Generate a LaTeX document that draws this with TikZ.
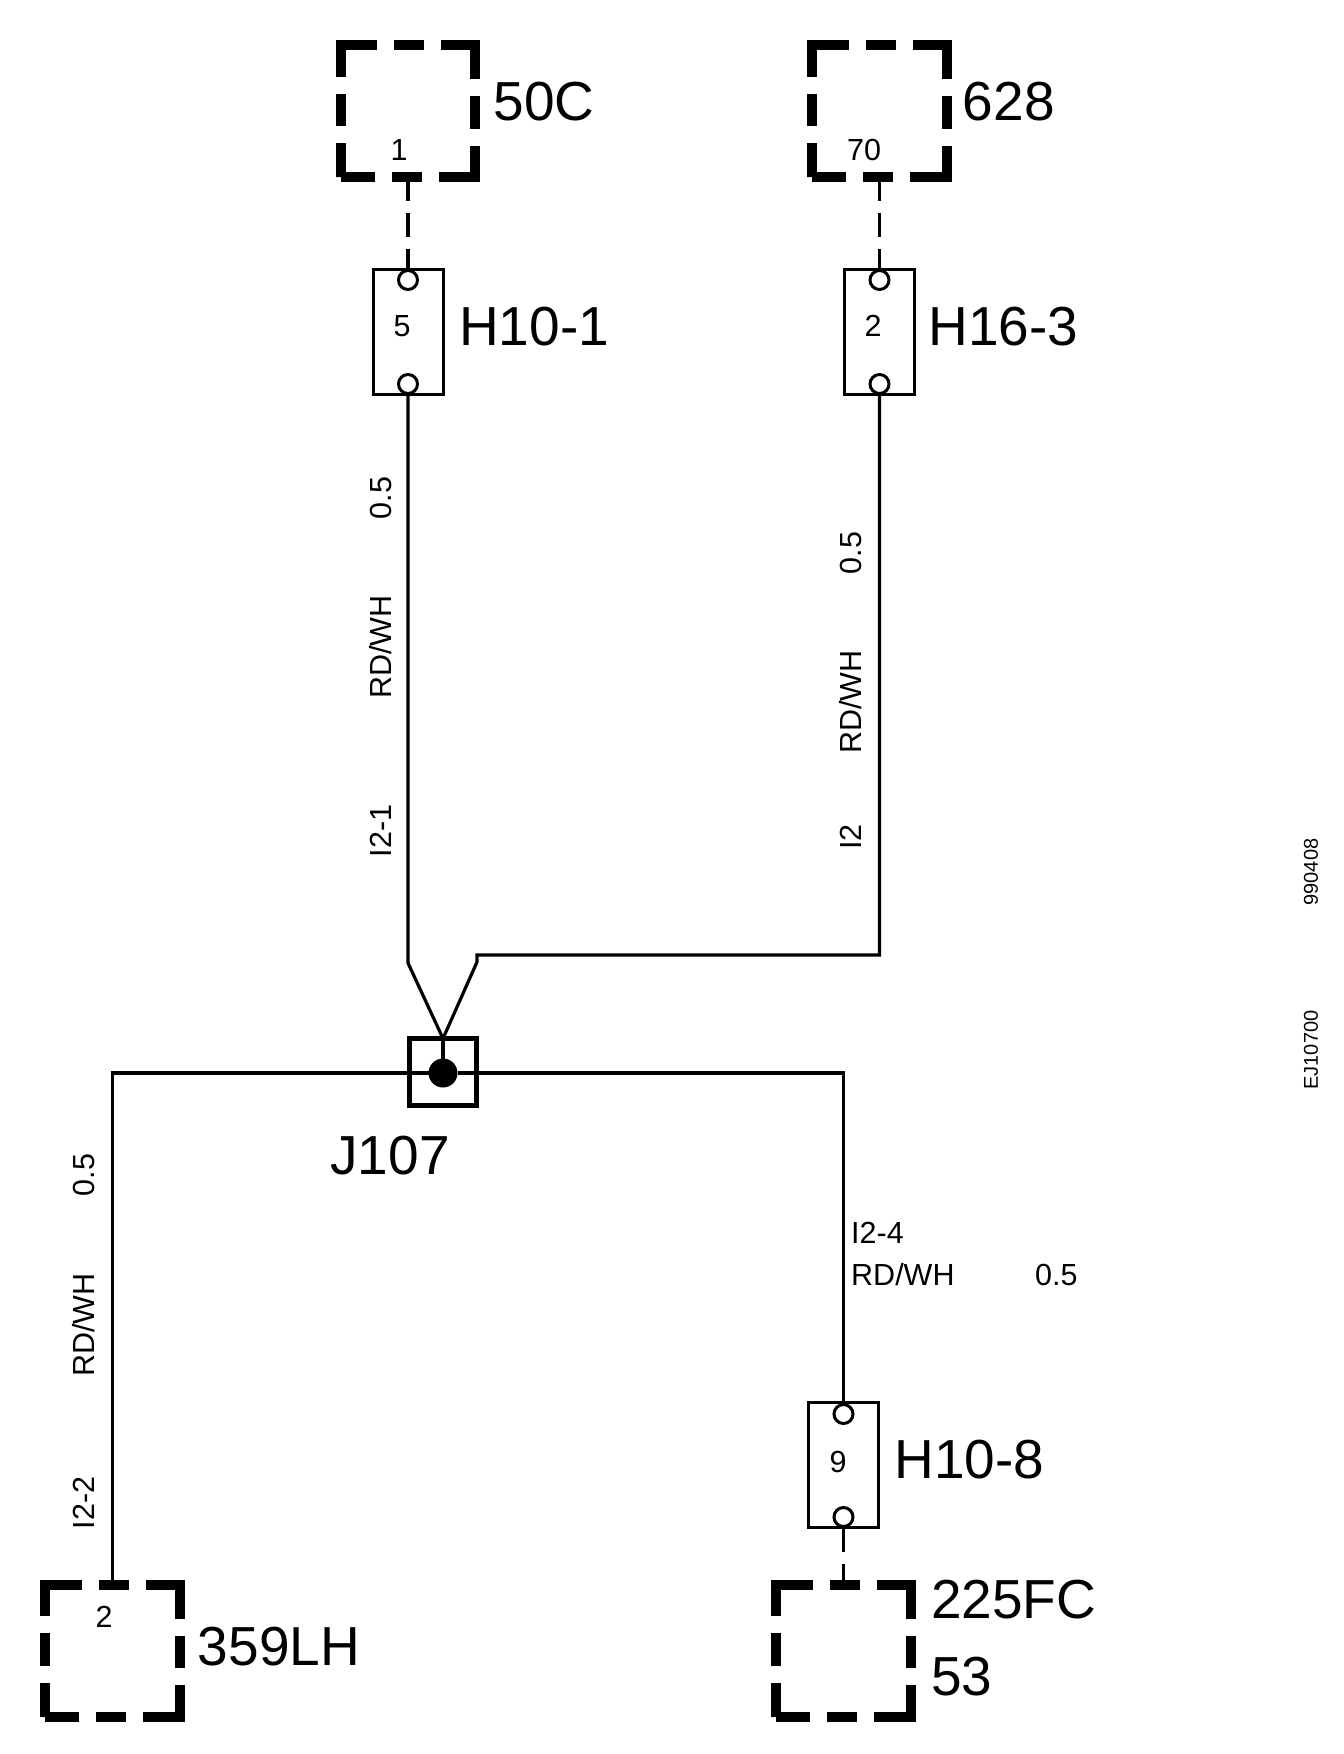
\documentclass[tikz,border=0pt]{standalone}
\usepackage{fontspec}
\setmainfont{Liberation Sans}
\usepackage{tikz}
\usetikzlibrary{positioning}
\tikzstyle{cbox} = [rectangle, draw, line width=10pt, minimum width=134.5pt, minimum height=132pt, inner sep=0pt, outer sep=0pt, dash pattern=on 34pt off 17pt on 30pt off 17pt on 68pt off 17pt on 32.5pt off 17pt on 34pt off 0pt]
\tikzstyle{module} = [rectangle, draw, line width=3pt, minimum width=70pt, minimum height=125pt, inner sep=0pt, outer sep=0pt]
\tikzstyle{pin} = [circle, draw, line width=3pt, fill=white, minimum size=19pt, inner sep=0pt, outer sep=0pt]
\tikzstyle{splice} = [rectangle, draw, line width=5pt, minimum size=67pt, inner sep=0pt, outer sep=0pt]
\tikzstyle{dot} = [circle, fill=black, minimum size=29pt, inner sep=0pt, outer sep=0pt]
\tikzstyle{bigtext} = [inner sep=0pt, font=\fontsize{55}{58}\selectfont]
\tikzstyle{smalltext} = [inner sep=0pt, font=\fontsize{30.5}{32}\selectfont]
\tikzstyle{sidetext} = [smalltext, rotate=90]
\tikzstyle{codetext} = [inner sep=0pt, rotate=90, font=\fontsize{20}{22}\selectfont]
\tikzstyle{wire} = [draw, line width=3.2pt, line join=miter]
\tikzstyle{stub} = [wire, dash pattern=on 24pt off 12pt]
\begin{document}
\begin{tikzpicture}[x=1pt, y=-1pt]
\useasboundingbox (0,0) rectangle (1344,1754);

% connectors and modules =============================
\node[cbox] (c50) at (408,111) {};
\node[cbox] (c628) at (879.5,111) {};
\node[cbox] (c359) at (112.5,1650.5) {};
\node[cbox] (c225) at (843.5,1650.5) {};
\node[module] (h101) at (408,331.5) {};
\node[module] (h163) at (879.5,331.5) {};
\node[module] (h108) at (843.5,1465) {};

% pins
\coordinate (k1) at (408,963);
\coordinate (k2) at (477,955);
\coordinate (k3) at (477,962);
\node[splice] (j107) at (443,1072) {};
\node[dot] (j107dot) at (443,1073) {};

% edges
\path[stub] (c50.south) -- (h101.north);
\path[stub] (c628.south) -- (h163.north);
\path[stub] (h108.south) -- (c225.north);
\path[wire] (h101.south) -- (k1) -- (j107.north);
\path[wire] (h163.south) |- (k2) -- (k3) -- (j107.north);
\path[wire] (j107.north) -- (j107dot);
\path[wire] (c359.north) |- (j107dot);
\path[wire] (j107dot) -| (h108.north);

\node[pin] (h101a) at (408,280) {};
\node[pin] (h101b) at (408,384) {};
\node[pin] (h163a) at (879.5,280) {};
\node[pin] (h163b) at (879.5,384) {};
\node[pin] (h108a) at (843.5,1414) {};
\node[pin] (h108b) at (843.5,1517) {};

% labels
\node[bigtext, right=18pt of c50, yshift=9pt] (t50) {50C};
\node[bigtext, right=16pt of c628, yshift=9pt] (t628) {628};
\node[bigtext, right=16pt of h101, yshift=5pt] (t101) {H10-1};
\node[bigtext, right=14pt of h163, yshift=5pt] (t163) {H16-3};
\node[bigtext, right=16pt of h108, yshift=5pt] (t108) {H10-8};
\node[bigtext, right=18pt of c359, yshift=4pt] (t359) {359LH};
\node[bigtext, anchor=west] (t225) at (931,1600) {225FC};
\node[bigtext, anchor=west] (t53) at (931,1677) {53};
\node[bigtext, below=30pt of j107, xshift=-53pt] (tj) {J107};

\node[smalltext] (n50) at (399,150) {1};
\node[smalltext] (n628) at (864,150) {70};
\node[smalltext] (n359) at (104,1617) {2};
\node[smalltext] (n101) at (402,326) {5};
\node[smalltext] (n163) at (873,326) {2};
\node[smalltext] (n108) at (838,1462) {9};

\node[sidetext] (a1) at (381,498) {0.5};
\node[sidetext] (a2) at (381,647) {RD/WH};
\node[sidetext] (a3) at (381,831) {I2-1};
\node[sidetext] (b1) at (851,553) {0.5};
\node[sidetext] (b2) at (851,702) {RD/WH};
\node[sidetext] (b3) at (851,837) {I2};
\node[sidetext] (d1) at (84,1175) {0.5};
\node[sidetext] (d2) at (84,1325) {RD/WH};
\node[sidetext] (d3) at (84,1503) {I2-2};
\node[smalltext, anchor=west] (e1) at (851,1233) {I2-4};
\node[smalltext, anchor=west] (e2) at (851,1275) {RD/WH};
\node[smalltext, anchor=west] (e3) at (1035,1275) {0.5};

\node[codetext] (code1) at (1311,872) {990408};
\node[codetext] (code2) at (1311,1050) {EJ10700};

\end{tikzpicture}
\end{document}
